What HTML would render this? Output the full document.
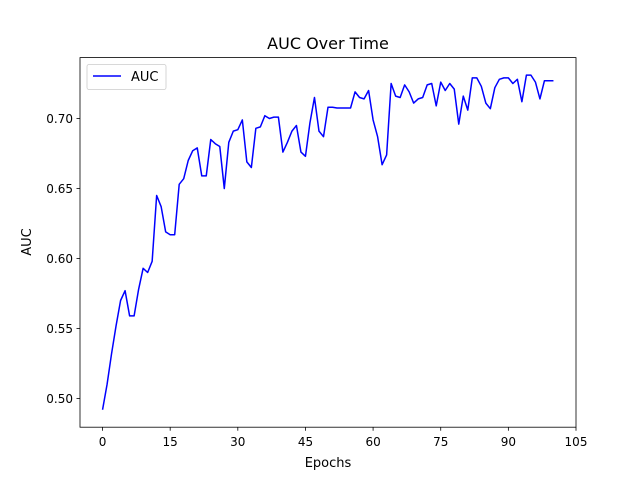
<!DOCTYPE html>
<html><head><meta charset="utf-8"><style>
body{margin:0;background:#fff;}
svg{display:block;font-family:"DejaVu Sans","Liberation Sans",sans-serif;}
</style></head><body>
<svg id="chart" width="640" height="480" viewBox="0 0 640 480">
<rect width="640" height="480" fill="#fff"/>
<text x="328" y="49" font-size="16" text-anchor="middle">AUC Over Time</text>
<g id="ticks"></g>
<path id="line" fill="none" stroke="#0000ff" stroke-width="1.5" stroke-linejoin="round"/>
<rect x="80" y="57.6" width="496" height="369.6" fill="none" stroke="#000" stroke-width="0.8"/>
<text x="328" y="467" font-size="13" text-anchor="middle">Epochs</text>
<text x="31" y="242" font-size="13" text-anchor="middle" transform="rotate(-90 31 242)">AUC</text>
<g>
<rect x="87" y="64.5" width="79" height="25" rx="2" fill="#fff" stroke="#ccc" stroke-width="0.8"/>
<line x1="93" y1="76" x2="121" y2="76" stroke="#0000ff" stroke-width="1.5"/>
<text x="131" y="81" font-size="13">AUC</text>
</g>
</svg>
<script>
const auc=[0.492,0.510,0.532,0.552,0.570,0.577,0.559,0.559,0.578,0.593,0.590,0.598,0.645,0.637,0.619,0.617,0.617,0.653,0.657,0.670,0.677,0.679,0.659,0.659,0.685,0.682,0.680,0.650,0.683,0.691,0.692,0.699,0.669,0.665,0.693,0.694,0.702,0.700,0.701,0.701,0.676,0.683,0.691,0.695,0.676,0.673,0.697,0.715,0.691,0.687,0.708,0.708,0.7075,0.7075,0.7075,0.7075,0.719,0.715,0.714,0.720,0.699,0.687,0.667,0.674,0.725,0.716,0.715,0.724,0.719,0.711,0.714,0.715,0.724,0.725,0.709,0.726,0.720,0.725,0.721,0.696,0.716,0.706,0.729,0.729,0.723,0.711,0.707,0.722,0.728,0.729,0.729,0.725,0.728,0.712,0.731,0.731,0.726,0.714,0.727,0.727,0.727];
const xTicks=[0,15,30,45,60,75,90,105];
const yTicks=[0.50,0.55,0.60,0.65,0.70];
const xMin=-5,xMax=105,yMin=0.4795,yMax=0.7435;
const X=v=>80+(v-xMin)/(xMax-xMin)*496;
const Y=v=>427.2-(v-yMin)/(yMax-yMin)*369.6;
const NS="http://www.w3.org/2000/svg";
const g=document.getElementById('ticks');
function mk(t,a){const e=document.createElementNS(NS,t);for(const k in a)e.setAttribute(k,a[k]);g.appendChild(e);return e;}
xTicks.forEach(t=>{
 const l=mk('line',{x1:X(t),x2:X(t),y1:427.2,y2:430.7,stroke:'#000','stroke-width':0.8});
 
 
 const s=mk('text',{x:X(t),y:446,'font-size':12,'text-anchor':'middle'});s.textContent=t;
 
 
});
yTicks.forEach(t=>{
 const l=mk('line',{x1:76.5,x2:80,y1:Y(t),y2:Y(t),stroke:'#000','stroke-width':0.8});
 
 
 const s=mk('text',{x:73,y:Y(t)+4.5,'font-size':12,'text-anchor':'end'});s.textContent=t.toFixed(2);
 
 
});
document.getElementById('line').setAttribute('d',auc.map((v,i)=>(i?'L':'M')+X(i).toFixed(2)+','+Y(v).toFixed(2)).join(''));
</script>
</body></html>
